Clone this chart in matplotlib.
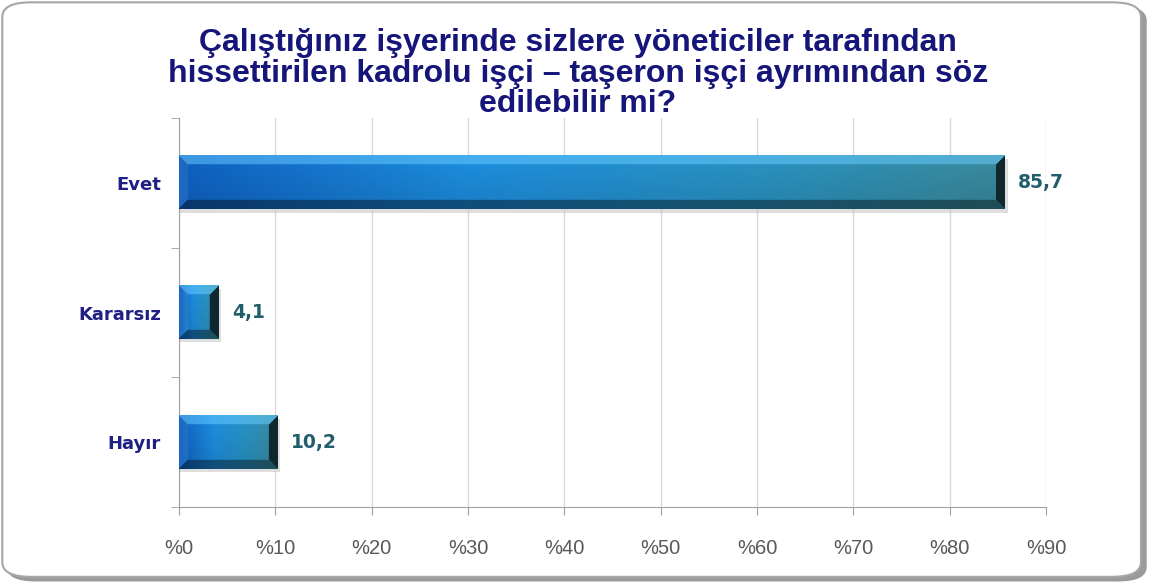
import numpy as np
import matplotlib.pyplot as plt
from matplotlib.patches import FancyBboxPatch
from matplotlib.colors import to_rgb

categories = ["Evet", "Kararsız", "Hayır"]
values = [85.7, 4.1, 10.2]
xticks = [0, 10, 20, 30, 40, 50, 60, 70, 80, 90]
title = ("Çalıştığınız işyerinde sizlere yöneticiler tarafından\n"
         "hissettirilen kadrolu işçi – taşeron işçi ayrımından söz\n"
         "edilebilir mi?")

plt.rcParams['font.family'] = ['Liberation Sans', 'DejaVu Sans']


def bevel_image(nx, ny, b=9):
    """Bevelled bar: gradient face, light top, dark bottom, darker right end."""
    stops = np.array([to_rgb("#0f62c4"), to_rgb("#1d8fe0"), to_rgb("#2a94c4"), to_rgb("#3a8c9e")])
    pos = np.array([0.0, 0.35, 0.7, 1.0])
    xs = np.linspace(0, 1, nx)
    base = np.stack([np.interp(xs, pos, stops[:, k]) for k in range(3)], axis=1)
    img = np.tile(base[None, :, :], (ny, 1, 1))
    px = np.arange(nx)[None, :] + 0.5
    py = np.arange(ny)[:, None] + 0.5
    dt, db, dl, dr = py + 0 * px, ny - py + 0 * px, px + 0 * py, nx - px + 0 * py
    d = np.stack([dt, db, dl, dr])
    face = np.argmin(d, axis=0)
    edge = d.min(axis=0) < b
    # slight vertical shading on the main face
    shade = 1.0 - 0.12 * (py / ny)
    out = img * shade[..., None]
    light = img * 0.5 + 0.5 * np.array([0.42, 0.8, 1.0])
    out = np.where((edge & (face == 0))[..., None], light, out)
    out = np.where((edge & (face == 1))[..., None], img * 0.55, out)
    out = np.where((edge & (face == 2))[..., None], img * 0.9 + 0.06, out)
    out = np.where((edge & (face == 3))[..., None], img * 0.28, out)
    return np.clip(out, 0, 1)


fig = plt.figure(figsize=(11.49, 5.85), dpi=100)

# rounded frame with shadow
fig.patches.append(FancyBboxPatch((0.006, 0.006), 0.992, 0.984, boxstyle="round,pad=0,rounding_size=0.025",
                                  transform=fig.transFigure, facecolor="#9a9a9a", edgecolor="none",
                                  zorder=-3))
fig.patches.append(FancyBboxPatch((0.002, 0.014), 0.991, 0.982, boxstyle="round,pad=0,rounding_size=0.025",
                                  transform=fig.transFigure, facecolor="white", edgecolor="#a6a6a6",
                                  linewidth=1.5, zorder=-2))

ax = fig.add_axes([0.1558, 0.1333, 0.7546, 0.665])
ax.set_facecolor("none")
ax_w_px = 0.7546 * 1149
ax_h_px = 0.665 * 585

ypos = np.arange(len(categories))[::-1]
bars = ax.barh(ypos, values, height=0.41, color="none", zorder=3)
for b, v in zip(bars, values):
    x0, y0, w, h = b.get_x(), b.get_y(), b.get_width(), b.get_height()
    nx = max(int(w / 90 * ax_w_px), 4)
    ny = max(int(h / 3 * ax_h_px), 4)
    # soft shadow
    ax.add_patch(plt.Rectangle((x0, y0 - 0.025), w + 0.3, h, facecolor="#c8c8c8", alpha=0.6,
                               edgecolor="none", zorder=2))
    ax.imshow(bevel_image(nx, ny), extent=[x0, x0 + w, y0, y0 + h], origin="upper",
              aspect="auto", zorder=3, interpolation="bilinear")
    ax.text(v + 1.4, b.get_y() + h / 2, f"{v:.1f}".replace(".", ","), va="center", ha="left",
            fontsize=13.5, fontweight="bold", color="#215d6b", family="DejaVu Sans", zorder=4)

ax.set_xlim(0, 90)
ax.set_ylim(-0.5, 2.5)
ax.set_xticks(xticks)
ax.set_xticklabels([f"%{t}" for t in xticks], fontsize=14.5, color="#595959")
ax.set_yticks(ypos)
ax.set_yticklabels(categories, fontsize=13, color="#1f1f85", fontweight="bold", family="DejaVu Sans")
ax.set_yticks([-0.5, 0.5, 1.5, 2.5], minor=True)
ax.tick_params(axis="y", which="major", length=0, pad=13)
ax.tick_params(axis="y", which="minor", length=6, color="#a0a0a0")
ax.tick_params(axis="x", length=6, color="#a0a0a0", pad=17)
ax.grid(axis="x", color="#d9d9d9", linewidth=1, zorder=0)
ax.set_axisbelow(True)
for s in ["top", "right"]:
    ax.spines[s].set_visible(False)
for s in ["left", "bottom"]:
    ax.spines[s].set_color("#a0a0a0")

fig.text(0.503, 0.874, title, ha="center", va="center", fontsize=23, fontweight="bold",
         color="#15157a", linespacing=1.03)

fig.savefig("out.png", dpi=100)
